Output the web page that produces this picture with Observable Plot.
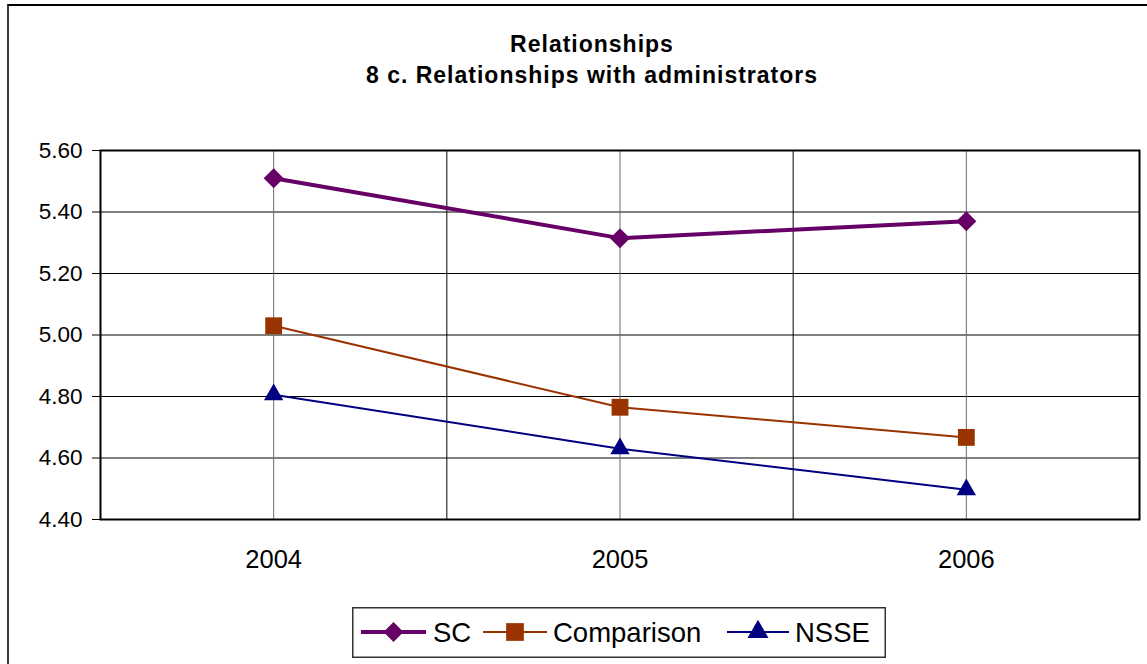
<!DOCTYPE html>
<html>
<head>
<meta charset="utf-8">
<script src="https://cdn.jsdelivr.net/npm/d3@7"></script>
<script src="https://cdn.jsdelivr.net/npm/@observablehq/plot@0.6"></script>
<style>
  html, body { margin: 0; padding: 0; background: #fff; }
  #page { position: relative; width: 1147px; height: 664px; overflow: hidden; background: #fff;
          font-family: "Liberation Sans", Arial, sans-serif; }
  #frame { position: absolute; left: 7px; top: 4px; width: 1200px; height: 700px;
           border-left: 2px solid #3a3a3a; border-top: 2px solid #000; }
  #title { position: absolute; left: 0; top: 29px; width: 1184px; text-align: center;
           font-weight: bold; font-size: 23px; line-height: 31px; letter-spacing: 1px; color: #000; }
  #chart { position: absolute; left: 0; top: 0; }
  #legend { position: absolute; left: 352px; top: 607px; }
</style>
</head>
<body>
<div id="page">
  <div id="frame"></div>
  <div id="chart"></div>
  <div id="title"></div>
  <div id="legend"></div>
</div>
<script>
// ---- data ----
const titleLines = ["Relationships", "8 c. Relationships with administrators"];
const years = [2004, 2005, 2006];
const seriesNames = ["SC", "Comparison", "NSSE"];
const scValues = [5.51, 5.315, 5.37];
const comparisonValues = [5.03, 4.765, 4.667];
const nsseValues = [4.806, 4.63, 4.497];
const yTicks = [4.4, 4.6, 4.8, 5.0, 5.2, 5.4, 5.6];
const seriesColors = ["#660066", "#993300", "#000080"];
const seriesSymbols = ["diamond2", "square", "triangle"];

const valuesBySeries = [scValues, comparisonValues, nsseValues];
const table = [];
seriesNames.forEach((s, i) => years.forEach((yr, j) => table.push({series: s, year: yr, value: valuesBySeries[i][j]})));
const boundaries = years.slice(0, -1).map((y, i) => (y + years[i + 1]) / 2);

document.getElementById("title").innerHTML = titleLines.map(t => `<div>${t}</div>`).join("");

const widths = {SC: 4, Comparison: 2, NSSE: 2};
const radii = {SC: 9, Comparison: 9.5, NSSE: 7.2};

const marks = [
  Plot.gridY(yTicks.filter(t => t > 4.4 && t < 5.6), {stroke: "#000", strokeOpacity: 1, strokeWidth: 1}),
  Plot.ruleX(years, {stroke: "#6e6e6e", strokeWidth: 1}),
  Plot.ruleX(boundaries, {stroke: "#000", strokeWidth: 1}),
  Plot.axisY({ticks: yTicks, tickFormat: d3.format(".2f"), tickSize: 8, tickPadding: 10,
              fontSize: 22.5, stroke: "#000", fill: "#000", label: null}),
  Plot.axisX({ticks: years, tickFormat: d => String(d), tickSize: 0, tickPadding: 30,
              fontSize: 25.5, fill: "#000", label: null}),
];
seriesNames.forEach((s, i) => {
  const rows = table.filter(d => d.series === s);
  marks.push(Plot.line(rows, {x: "year", y: "value", stroke: "series", strokeWidth: widths[s]}));
  marks.push(Plot.dot(rows, {x: "year", y: "value", fill: "series", symbol: () => seriesSymbols[i], r: radii[s]}));
});
marks.push(Plot.frame({stroke: "#000", strokeWidth: 2}));

const chart = Plot.plot({
  width: 1147,
  height: 600,
  marginLeft: 100,
  marginRight: 8,
  marginTop: 150,
  marginBottom: 81,
  style: {fontFamily: "'Liberation Sans', Arial, sans-serif", background: "transparent", color: "#000"},
  x: {type: "linear", domain: [years[0] - 0.5, years[years.length - 1] + 0.5], axis: null},
  y: {domain: [yTicks[0], yTicks[yTicks.length - 1]], axis: null},
  color: {domain: seriesNames, range: seriesColors},
  symbol: {domain: seriesSymbols, range: seriesSymbols},
  marks
});
document.getElementById("chart").appendChild(chart);

// ---- legend ----
const legendItems = [
  {x0: 9, x1: 74, text: 81, sym: d3.symbolDiamond2, size: Math.PI * 9 * 9},
  {x0: 131, x1: 195, text: 201, sym: d3.symbolSquare, size: Math.PI * 10 * 10},
  {x0: 375, x1: 437, text: 443, sym: d3.symbolTriangle, size: Math.PI * 7.8 * 7.8},
];
const lg = d3.create("svg").attr("width", 534).attr("height", 51)
  .style("font-family", "'Liberation Sans', Arial, sans-serif");
lg.append("rect").attr("x", 0.75).attr("y", 0.75).attr("width", 532.5).attr("height", 49.5)
  .attr("fill", "#fff").attr("stroke", "#333").attr("stroke-width", 1.5);
legendItems.forEach((it, i) => {
  const cy = 25;
  lg.append("line").attr("x1", it.x0).attr("x2", it.x1).attr("y1", cy).attr("y2", cy)
    .attr("stroke", seriesColors[i]).attr("stroke-width", widths[seriesNames[i]]);
  lg.append("path").attr("d", d3.symbol(it.sym, it.size)())
    .attr("transform", `translate(${(it.x0 + it.x1) / 2},${cy})`).attr("fill", seriesColors[i]);
  lg.append("text").attr("x", it.text).attr("y", cy).attr("dy", "0.35em")
    .attr("font-size", 27.5).attr("fill", "#000").text(seriesNames[i]);
});
document.getElementById("legend").appendChild(lg.node());
</script>
</body>
</html>
